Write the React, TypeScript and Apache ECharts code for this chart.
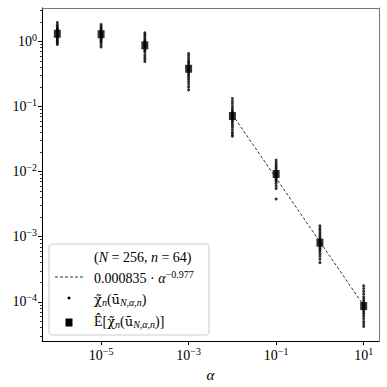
import React, { useEffect, useRef } from "react";
import * as echarts from "echarts";

// ---- data ----
const alphas = [1e-6, 1e-5, 1e-4, 1e-3, 1e-2, 1e-1, 1, 10];
const meanValues = [1.31, 1.29, 0.87, 0.38, 0.0714, 0.0092, 0.00081, 0.000086];
const samples: number[][] = [
  [1.95, 1.8, 1.7, 1.6, 1.55, 1.5, 1.45, 1.4, 1.37, 1.34, 1.3, 1.27, 1.24, 1.2, 1.15, 1.1, 1.05, 1.0, 0.95, 0.9],
  [1.82, 1.7, 1.6, 1.52, 1.46, 1.42, 1.38, 1.34, 1.3, 1.27, 1.24, 1.2, 1.15, 1.1, 1.05, 1.0, 0.95, 0.88, 0.82],
  [1.36, 1.28, 1.2, 1.12, 1.05, 1.0, 0.96, 0.92, 0.89, 0.86, 0.83, 0.8, 0.76, 0.72, 0.68, 0.62, 0.57, 0.53, 0.49],
  [0.65, 0.6, 0.55, 0.51, 0.48, 0.45, 0.42, 0.4, 0.38, 0.36, 0.34, 0.32, 0.3, 0.28, 0.26, 0.24, 0.22, 0.2, 0.18],
  [0.133, 0.12, 0.11, 0.1, 0.093, 0.087, 0.082, 0.078, 0.074, 0.07, 0.067, 0.063, 0.06, 0.056, 0.052, 0.048, 0.044, 0.04, 0.037, 0.035],
  [0.015, 0.0138, 0.0128, 0.012, 0.0112, 0.0105, 0.0099, 0.0095, 0.0091, 0.0087, 0.0083, 0.0079, 0.0075, 0.0071, 0.0066, 0.006, 0.0055, 0.0038],
  [0.00147, 0.00135, 0.00125, 0.00115, 0.00107, 0.001, 0.00094, 0.00089, 0.00084, 0.0008, 0.00076, 0.00072, 0.00068, 0.00064, 0.0006, 0.00055, 0.0005, 0.00045, 0.0004],
  [1.77e-4, 1.6e-4, 1.45e-4, 1.32e-4, 1.2e-4, 1.1e-4, 1.02e-4, 9.6e-5, 9.0e-5, 8.5e-5, 8.0e-5, 7.5e-5, 7.0e-5, 6.5e-5, 6.0e-5, 5.5e-5, 5.0e-5, 4.6e-5, 4.2e-5],
];
const fitCoef = 0.000835;
const fitExp = -0.977;
const fitAlphas = [1e-2, 1e1];
const xTickExps = [-5, -3, -1, 1];
const yTickExps = [-4, -3, -2, -1, 0];
const xLogMin = -6.35;
const xLogMax = 1.35;
const yLogMin = -4.603;
const yLogMax = 0.513;

const FONT = "'Liberation Serif', 'Times New Roman', serif";
const MFONT = "'DejaVu Serif', serif";

const powLabel = (v: number) => {
  const e = Math.round(v);
  const s = e < 0 ? "\u2212" + -e : String(e);
  return `{b|10}{s|${s}}`;
};

const tickRich = {
  b: { fontSize: 14, fontFamily: FONT, color: "#000" },
  s: { fontSize: 10, fontFamily: FONT, color: "#000", padding: [0, 0, 8, 0] },
};

const mathRich = {
  r: { fontSize: 14, fontFamily: FONT, color: "#000" },
  i: { fontSize: 14, fontFamily: FONT, fontStyle: "italic", color: "#000" },
  m: { fontSize: 13, fontFamily: MFONT, color: "#000" },
  sup: { fontSize: 10, fontFamily: FONT, color: "#000", padding: [0, 0, 8, 0] },
  sub: { fontSize: 10, fontFamily: FONT, fontStyle: "italic", color: "#000", padding: [7, 0, 0, 0] },
};

export default function App() {
  const ref = useRef<HTMLDivElement>(null);
  useEffect(() => {
    document.body.style.margin = "0";
    if (!ref.current) return;
    const chart = echarts.init(ref.current, undefined, { renderer: "svg" });

    const minorY: number[] = [];
    for (let d = -5; d <= 0; d++) {
      for (let k = 2; k <= 9; k++) {
        const v = d + Math.log10(k);
        if (v > yLogMin && v < yLogMax) minorY.push(v);
      }
    }

    const dotData: number[][] = [];
    alphas.forEach((a, i) => {
      samples[i].forEach((v) => dotData.push([Math.log10(a), Math.log10(v)]));
    });
    const meanData = alphas.map((a, i) => [Math.log10(a), Math.log10(meanValues[i])]);
    const fitData = fitAlphas.map((a) => [Math.log10(a), Math.log10(fitCoef * Math.pow(a, fitExp))]);

    const axisLabelBase = { color: "#000", fontFamily: FONT, fontSize: 14 };

    const option: any = {
      animation: false,
      backgroundColor: "#fff",
      textStyle: { fontFamily: FONT, color: "#000" },
      grid: { left: 42, right: 8, top: 8, bottom: 45, containLabel: false },
      xAxis: [
        {
          type: "value",
          min: xLogMin,
          max: xLogMax,
          name: "\u03b1",
          nameLocation: "middle",
          nameGap: 24,
          nameTextStyle: { fontFamily: FONT, fontStyle: "italic", fontSize: 15, color: "#000" },
          axisLine: { show: true, onZero: false, lineStyle: { color: "#000", width: 1 } },
          axisTick: { show: true, customValues: xTickExps, length: 4, lineStyle: { color: "#000", width: 1 } },
          axisLabel: { ...axisLabelBase, customValues: xTickExps, formatter: powLabel, rich: tickRich, margin: 5 },
          splitLine: { show: false },
        },
        {
          type: "value",
          position: "top",
          min: xLogMin,
          max: xLogMax,
          axisLine: { show: true, onZero: false, lineStyle: { color: "#777", width: 1 } },
          axisTick: { show: false },
          axisLabel: { show: false },
          splitLine: { show: false },
        },
      ],
      yAxis: [
        {
          type: "value",
          min: yLogMin,
          max: yLogMax,
          axisLine: { show: true, onZero: false, lineStyle: { color: "#000", width: 1 } },
          axisTick: { show: true, customValues: yTickExps, length: 4, lineStyle: { color: "#000", width: 1 } },
          axisLabel: { ...axisLabelBase, customValues: yTickExps, formatter: powLabel, rich: tickRich, margin: 5 },
          splitLine: { show: false },
        },
        {
          type: "value",
          min: yLogMin,
          max: yLogMax,
          position: "left",
          axisLine: { show: false, onZero: false },
          axisTick: { show: true, customValues: minorY, length: 2, lineStyle: { color: "#000", width: 0.8 } },
          axisLabel: { show: false, customValues: minorY },
          splitLine: { show: false },
        },
        {
          type: "value",
          min: yLogMin,
          max: yLogMax,
          position: "right",
          axisLine: { show: true, onZero: false, lineStyle: { color: "#777", width: 1 } },
          axisTick: { show: false },
          axisLabel: { show: false },
          splitLine: { show: false },
        },
      ],
      series: [
        {
          type: "line",
          name: "fit",
          data: fitData,
          showSymbol: false,
          symbol: "none",
          lineStyle: { color: "#000", width: 0.8, type: [3, 2] },
          z: 2,
        },
        {
          type: "scatter",
          name: "samples",
          data: dotData,
          symbol: "circle",
          symbolSize: 3,
          itemStyle: { color: "#000" },
          z: 3,
        },
        {
          type: "scatter",
          name: "mean",
          data: meanData,
          symbol: "rect",
          symbolSize: [7, 8],
          itemStyle: { color: "#000" },
          z: 4,
        },
      ],
      graphic: [
        {
          type: "group",
          z: 100,
          children: [
            {
              type: "rect",
              shape: { x: 49, y: 244, width: 160, height: 91, r: 3 },
              style: { fill: "rgba(255,255,255,0.85)", stroke: "#cccccc", lineWidth: 1 },
            },
            {
              type: "text",
              style: {
                x: 94, y: 257, verticalAlign: "middle",
                text: "{r|(}{i|N}{r| = 256, }{i|n}{r| = 64)}",
                rich: mathRich,
              },
            },
            {
              type: "line",
              shape: { x1: 55, y1: 277, x2: 83, y2: 277 },
              style: { stroke: "#000", lineWidth: 0.8, lineDash: [3, 2] },
            },
            {
              type: "text",
              style: {
                x: 94, y: 278, verticalAlign: "middle",
                text: "{r|0.000835 \u00b7 }{i|\u03b1}{sup|\u22120.977}",
                rich: mathRich,
              },
            },
            {
              type: "circle",
              shape: { cx: 69, cy: 298, r: 1.5 },
              style: { fill: "#000" },
            },
            {
              type: "text",
              style: {
                x: 94, y: 299, verticalAlign: "middle",
                text: "{m|\u03c7\u0303}{sub|n}{r|(}{m|\u016b}{sub|N,\u03b1,n}{r|)}",
                rich: mathRich,
              },
            },
            {
              type: "rect",
              shape: { x: 65.5, y: 318.5, width: 7, height: 8 },
              style: { fill: "#000" },
            },
            {
              type: "text",
              style: {
                x: 94, y: 321, verticalAlign: "middle",
                text: "{r|\u00ca[}{m|\u03c7\u0303}{sub|n}{r|(}{m|\u016b}{sub|N,\u03b1,n}{r|)]}",
                rich: mathRich,
              },
            },
          ],
        },
      ],
    };
    chart.setOption(option);
    return () => chart.dispose();
  }, []);
  return <div ref={ref} style={{ width: 387, height: 387 }} />;
}
